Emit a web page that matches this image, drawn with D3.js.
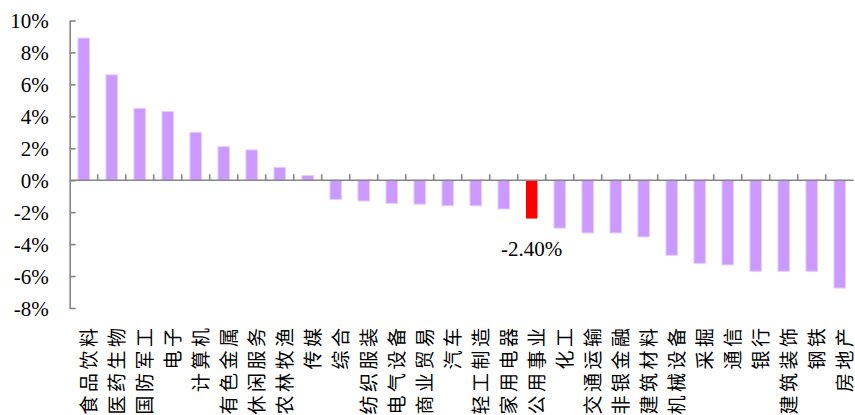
<!DOCTYPE html>
<html>
<head>
<meta charset="utf-8">
<script src="https://cdn.jsdelivr.net/npm/d3@7"></script>
<style>
  body { margin: 0; background: #fff; }
  svg { display: block; }
</style>
</head>
<body>
<svg id="chart" width="855" height="415"></svg>
<script>
// Industry returns (%), sorted from best to worst
const categories = [
  "食品饮料", "医药生物", "国防军工", "电子", "计算机", "有色金属", "休闲服务",
  "农林牧渔", "传媒", "综合", "纺织服装", "电气设备", "商业贸易", "汽车",
  "轻工制造", "家用电器", "公用事业", "化工", "交通运输", "非银金融", "建筑材料",
  "机械设备", "采掘", "通信", "银行", "建筑装饰", "钢铁", "房地产"
];
const values = [
  8.9, 6.6, 4.5, 4.3, 3.0, 2.1, 1.9,
  0.8, 0.3, -1.2, -1.3, -1.45, -1.5, -1.6,
  -1.6, -1.8, -2.40, -3.0, -3.3, -3.3, -3.55,
  -4.7, -5.2, -5.3, -5.7, -5.7, -5.7, -6.75
];
const highlighted = ["公用事业"];
const yTickValues = [10, 8, 6, 4, 2, 0, -2, -4, -6, -8];

const svg = d3.select("#chart");
const axisColor = "#868686";
const serif = "'Liberation Serif', 'Times New Roman', serif";

const data = categories.map((c, i) => ({ name: c, value: values[i] }));

const x = d3.scaleBand()
  .domain(categories)
  .range([69.7, 853.7])
  .padding(0);

const y = d3.scaleLinear()
  .domain([-8, 10])
  .range([308, 20.5]);

const barW = x.bandwidth() * 0.41;

// Bars
svg.append("g")
  .selectAll("rect")
  .data(data)
  .join("rect")
  .attr("x", d => x(d.name) + (x.bandwidth() - barW) / 2)
  .attr("y", d => y(Math.max(0, d.value)))
  .attr("width", barW)
  .attr("height", d => Math.abs(y(d.value) - y(0)))
  .attr("fill", d => highlighted.includes(d.name) ? "#FF0000" : "#CC99FF")
  .attr("stroke", d => highlighted.includes(d.name) ? "none" : "#E4CCFF")
  .attr("stroke-width", 1);

// Y axis with inward ticks
const yAxis = d3.axisLeft(y)
  .tickValues(yTickValues)
  .tickSizeInner(-6)
  .tickSizeOuter(0)
  .tickPadding(21)
  .tickFormat(d => d + "%");

const gy = svg.append("g")
  .attr("transform", "translate(69.7,0)")
  .call(yAxis);
gy.select(".domain").attr("stroke", axisColor).attr("stroke-width", 1.6);
gy.selectAll(".tick line").attr("stroke", axisColor).attr("stroke-width", 1.6);
gy.selectAll(".tick text")
  .attr("fill", "#000")
  .attr("font-family", serif)
  .attr("font-size", 21)
  .attr("dy", "0.34em");

// Zero baseline with category separators
const gx = svg.append("g").attr("transform", `translate(0,${y(0)})`);
gx.append("line")
  .attr("x1", 69.7).attr("x2", x.range()[1])
  .attr("stroke", axisColor).attr("stroke-width", 1.6);
gx.selectAll("line.sep")
  .data(categories.slice(1))
  .join("line")
  .attr("class", "sep")
  .attr("x1", d => x(d)).attr("x2", d => x(d))
  .attr("y1", 0).attr("y2", -6)
  .attr("stroke", axisColor).attr("stroke-width", 1.6);

// Category labels, rotated, along the bottom
const ls = 3.5;
svg.append("g")
  .selectAll("text")
  .data(categories)
  .join("text")
  .attr("transform", d => `translate(${x(d) + x.bandwidth() / 2 + 3.5},${321 + ls}) rotate(-90)`)
  .attr("text-anchor", "end")
  .attr("dominant-baseline", "central")
  .attr("font-family", "'Noto Sans CJK SC', sans-serif")
  .attr("font-size", 19)
  .attr("letter-spacing", ls + "px")
  .attr("fill", "#000")
  .text(d => d);

// Value label for the highlighted bar
svg.append("g")
  .selectAll("text")
  .data(data.filter(d => highlighted.includes(d.name)))
  .join("text")
  .attr("x", d => x(d.name) + x.bandwidth() / 2)
  .attr("y", 256)
  .attr("text-anchor", "middle")
  .attr("font-family", serif)
  .attr("font-size", 21)
  .attr("fill", "#000")
  .text(d => d.value.toFixed(2) + "%");
</script>
</body>
</html>
